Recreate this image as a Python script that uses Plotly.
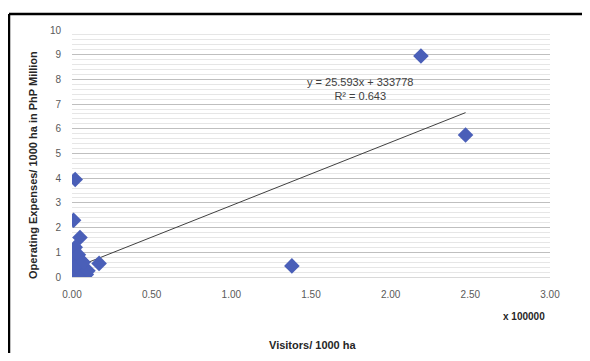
import plotly.graph_objects as go

# Data (x in units of 100000 visitors / 1000 ha, y in PhP Million / 1000 ha)
visitors = [2.19, 2.47, 1.38, 0.17, 0.02, 0.01, 0.05, 0.01,
            0.005, 0.01, 0.02, 0.03, 0.04, 0.05, 0.06, 0.01, 0.02, 0.03,
            0.005, 0.015, 0.025, 0.035, 0.045, 0.00, 0.01, 0.02, 0.07, 0.08, 0.03, 0.04,
            0.09, 0.06, 0.10, 0.07]
op_expenses = [8.95, 5.75, 0.45, 0.55, 3.95, 2.3, 1.6, 1.1,
               1.0, 0.9, 1.2, 0.8, 0.6, 0.7, 0.5, 0.4, 0.3, 0.2,
               0.1, 0.05, 0.35, 0.25, 0.15, 0.0, 0.6, 0.75, 0.2, 0.3, 0.45, 0.9,
               0.1, 0.05, 0.25, 0.6]

# Linear trendline reported on chart: y = 25.593x + 333778 (raw units)
slope = 2.5593       # PhP Million per 100000 visitors
intercept = 0.333778 # PhP Million
r_squared = 0.643

x_ticks = [0, 0.5, 1.0, 1.5, 2.0, 2.5, 3.0]
y_ticks = list(range(0, 11))

fig = go.Figure()

xmin, xmax = min(visitors), max(visitors)
fig.add_trace(go.Scatter(
    x=[xmin, xmax], y=[slope * xmin + intercept, slope * xmax + intercept],
    mode="lines", line=dict(color="#404040", width=1), showlegend=False, hoverinfo="skip"))

fig.add_trace(go.Scatter(
    x=visitors, y=op_expenses, mode="markers",
    marker=dict(symbol="diamond", size=12, color="#4a5fb8",
                line=dict(width=0)),
    showlegend=False))

# page body has an 8px margin; keep the figure inside the window (no scrollbars)
FW, FH = 574, 345
PL, PR, PT, PB = 72, 550, 30, 277   # plot area in window pixels
W = PR - PL
H = PB - PT

def px(x):
    return (x - PL) / W

def py(y):
    return (PB - y) / H

fig.update_layout(
    width=FW, height=FH,
    margin=dict(l=PL - 8, r=FW + 8 - PR, t=PT - 8, b=FH + 8 - PB),
    paper_bgcolor="white", plot_bgcolor="white",
    font=dict(family="Liberation Sans, Arial, sans-serif", size=10, color="#595959"),
    xaxis=dict(range=[0, 3], tickvals=x_ticks, tickformat=".2f",
               showgrid=False, zeroline=False, showline=True, linecolor="#d9d9d9",
               ticks="", ticklabelstandoff=8, tickfont=dict(size=10, color="#595959")),
    yaxis=dict(range=[0, 10], tickvals=y_ticks, showgrid=True, gridcolor="#bfbfbf",
               gridwidth=1, zeroline=False, showline=False, ticks="",
               ticklabelstandoff=10, tickfont=dict(size=10, color="#595959"),
               minor=dict(dtick=0.2, showgrid=True, gridcolor="#e6e6e6", gridwidth=1)),
    annotations=[
        dict(x=1.81, y=7.62, xref="x", yref="y",
             text="y = 25.593x + 333778<br>R² = 0.643", showarrow=False,
             font=dict(size=11, color="#404040"), align="center"),
        dict(x=px(33), y=py(165), xref="paper", yref="paper", textangle=-90,
             text="<b>Operating Expenses/ 1000 ha in PhP Million</b>", showarrow=False,
             font=dict(size=11, color="#262626"), xanchor="center", yanchor="middle"),
        dict(x=px(313), y=py(345), xref="paper", yref="paper",
             text="<b>Visitors/ 1000 ha</b>", showarrow=False,
             font=dict(size=11, color="#262626"), xanchor="center", yanchor="middle"),
        dict(x=px(524), y=py(316), xref="paper", yref="paper",
             text="<b>x 100000</b>", showarrow=False,
             font=dict(size=10, color="#262626"), xanchor="center", yanchor="middle"),
    ],
    shapes=[
        dict(type="line", xref="paper", yref="paper",
             x0=px(9), x1=px(620), y0=py(14), y1=py(14),
             line=dict(color="black", width=2.5)),
        dict(type="line", xref="paper", yref="paper",
             x0=px(9), x1=px(9), y0=py(14), y1=py(400),
             line=dict(color="black", width=2.5)),
    ],
)

fig.write_html("out.html")
